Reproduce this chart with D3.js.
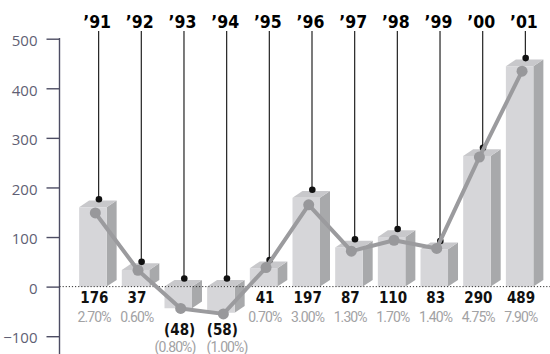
<!DOCTYPE html>
<html>
<head>
<meta charset="utf-8">
<script src="https://cdn.jsdelivr.net/npm/d3@7"></script>
<style>
  html, body { margin: 0; padding: 0; background: #fff; }
  svg { display: block; }
</style>
</head>
<body>
<svg id="chart" width="550" height="354"></svg>
<script>
// Annual figures: amount (bars) and growth rate in percent (line)
const years    = ["91", "92", "93", "94", "95", "96", "97", "98", "99", "00", "01"];
const amounts  = [176, 37, -48, -58, 41, 197, 87, 110, 83, 290, 489];
const rates    = [2.70, 0.60, -0.80, -1.00, 0.70, 3.00, 1.30, 1.70, 1.40, 4.75, 7.90];
const axisTicks = [-100, 0, 100, 200, 300, 400, 500];

const W = 550, H = 354;
const svg = d3.select("#chart");

const axisX = 59.5;
const y = d3.scaleLinear().domain([-100, 500]).range([336.2, 38.7]);
// bars use their own scale: 550 on the bar scale reaches the 500 gridline
const barY = d3.scaleLinear().domain([0, 550]).range([y(0), y(500)]);
// growth rate scale: 10% reaches the 550 level of the axis
const rateY = d3.scaleLinear().domain([0, 10]).range([y(0), y(550)]);

const x = d3.scaleBand().domain(years).range([77.3, 546.7]).paddingInner(0).paddingOuter(0);
const cx = d => x(d) + x.bandwidth() / 2;

const y0 = y(0);
const FRONT_L = -19.5, FRONT_R = 8, DX = 10, DY = 6.7;

const fontBold = "'Liberation Sans Narrow', 'DejaVu Sans Condensed', Roboto, sans-serif";

const data = years.map((yr, i) => ({ yr, v: amounts[i], r: rates[i], i }));

// Y axis
const axis = d3.axisLeft(y).tickValues(axisTicks).tickSize(13).tickSizeOuter(0).tickPadding(9);
const gAxis = svg.append("g").attr("transform", `translate(${axisX},0)`).call(axis);
gAxis.select(".domain").remove();
gAxis.selectAll(".tick line").attr("stroke", "#4d4d63").attr("stroke-width", 1.4);
gAxis.selectAll(".tick text")
  .attr("fill", "#5f5f74")
  .attr("font-family", "'Open Sans', sans-serif")
  .attr("font-size", 15)
  .attr("dy", "0.45em");
svg.append("line")
  .attr("x1", axisX).attr("x2", axisX)
  .attr("y1", y(500) - 0.7).attr("y2", H)
  .attr("stroke", "#4d4d63").attr("stroke-width", 1.4);

// 3D bars
const bars = svg.append("g");
data.forEach(d => {
  const c = cx(d.yr);
  const top = d.v >= 0 ? barY(d.v) : y0;
  const bot = d.v >= 0 ? y0 : y0 + (y0 - barY(-d.v));
  const xl = c + FRONT_L, xr = c + FRONT_R;
  // side face
  bars.append("path")
    .attr("d", `M${xr},${top}L${xr + DX},${top - DY}L${xr + DX},${bot - DY}L${xr},${bot}Z`)
    .attr("fill", "#a8a9ab");
  // top face
  bars.append("path")
    .attr("d", `M${xl},${top}L${xl + DX},${top - DY}L${xr + DX},${top - DY}L${xr},${top}Z`)
    .attr("fill", "#c8c8cb");
  // front face
  bars.append("rect")
    .attr("x", xl).attr("y", top)
    .attr("width", xr - xl).attr("height", bot - top)
    .attr("fill", "#d6d6d9");
});

// dotted zero line
svg.append("line")
  .attr("x1", axisX).attr("x2", W)
  .attr("y1", y0).attr("y2", y0)
  .attr("stroke", "#333").attr("stroke-width", 1)
  .attr("stroke-dasharray", "1.2 1.9");

// leader lines from year labels to the bar tops
const leaders = svg.append("g");
data.forEach(d => {
  const c = cx(d.yr);
  const top = d.v >= 0 ? barY(d.v) : y0;
  const dotY = top - DY - 1.4;
  leaders.append("line")
    .attr("x1", c).attr("x2", c)
    .attr("y1", 31).attr("y2", dotY)
    .attr("stroke", "#222").attr("stroke-width", 1.2);
  leaders.append("circle")
    .attr("cx", c + 0.3).attr("cy", dotY).attr("r", 3.3)
    .attr("fill", "#111");
});

// growth rate line
const line = d3.line().x(d => cx(d.yr) - 3.3).y(d => rateY(d.r));
svg.append("path")
  .datum(data)
  .attr("d", line)
  .attr("fill", "none")
  .attr("stroke", "#9b9b9e")
  .attr("stroke-width", 4)
  .attr("stroke-linejoin", "round");
svg.append("g").selectAll("circle")
  .data(data).join("circle")
  .attr("cx", d => cx(d.yr) - 3.3)
  .attr("cy", d => rateY(d.r))
  .attr("r", 5.5)
  .attr("fill", "#98989b");

// year labels
svg.append("g").selectAll("text")
  .data(data).join("text")
  .attr("x", d => cx(d.yr) - 1.5)
  .attr("y", 28)
  .attr("text-anchor", "middle")
  .attr("font-family", fontBold)
  .attr("font-weight", "bold")
  .attr("font-size", 17.5)
  .attr("fill", "#000")
  .text(d => "\u2019" + d.yr);

// value labels
const fmtV = v => v < 0 ? `(${-v})` : `${v}`;
const fmtR = r => r < 0 ? `(${(-r).toFixed(2)}%)` : `${r.toFixed(2)}%`;
svg.append("g").selectAll("text")
  .data(data).join("text")
  .attr("x", d => cx(d.yr) - 4.3)
  .attr("y", d => d.v < 0 ? y0 + 48.8 : y0 + 16.8)
  .attr("text-anchor", "middle")
  .attr("font-family", fontBold)
  .attr("font-weight", "bold")
  .attr("font-size", 15)
  .attr("fill", "#111")
  .text(d => fmtV(d.v));

// rate labels; adjacent negative labels are spread apart so they don't collide
const isNeg = i => i >= 0 && i < data.length && data[i].v < 0;
const rateNudge = d => {
  if (d.v >= 0) return 0;
  if (isNeg(d.i + 1)) return -4.5;
  if (isNeg(d.i - 1)) return 4.8;
  return 0;
};
svg.append("g").selectAll("text")
  .data(data).join("text")
  .attr("x", d => cx(d.yr) - 4.5 + rateNudge(d))
  .attr("y", d => d.v < 0 ? y0 + 65.3 : y0 + 35.8)
  .attr("text-anchor", "middle")
  .attr("font-family", "Roboto, sans-serif")
  .attr("font-size", 14)
  .attr("letter-spacing", -0.9)
  .attr("fill", "#a2a2a4")
  .text(d => fmtR(d.r));
</script>
</body>
</html>
